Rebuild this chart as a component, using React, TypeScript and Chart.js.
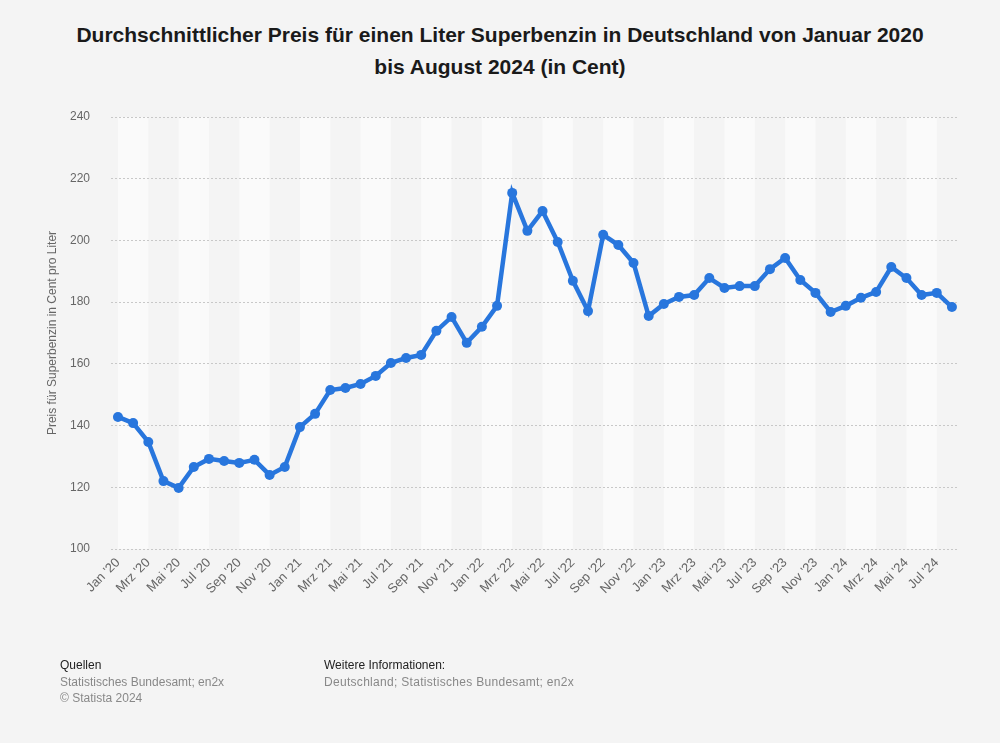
import React, { useEffect, useRef } from "react";
import { Chart, registerables } from "chart.js";

Chart.register(...registerables);

const monthNames = ["Jan", "Feb", "Mrz", "Apr", "Mai", "Jun", "Jul", "Aug", "Sep", "Okt", "Nov", "Dez"];
const years = ["20", "21", "22", "23", "24"];

const categories: string[] = [];
years.forEach((y, yi) => {
  const n = yi === 4 ? 8 : 12;
  for (let m = 0; m < n; m++) categories.push(`${monthNames[m]} '${y}`);
});

const prices2020 = [142.8, 140.8, 134.7, 122.0, 119.8, 126.6, 129.2, 128.5, 127.9, 128.9, 124.0, 126.6];
const prices2021 = [139.5, 143.8, 151.5, 152.2, 153.5, 156.1, 160.3, 161.9, 162.9, 170.7, 175.2, 166.8];
const prices2022 = [172.0, 178.8, 215.4, 203.1, 209.5, 199.5, 186.9, 177.1, 201.8, 198.5, 192.7, 175.5];
const prices2023 = [179.4, 181.7, 182.3, 187.8, 184.6, 185.2, 185.2, 190.7, 194.3, 187.2, 183.0, 176.8];
const prices2024 = [178.8, 181.4, 183.3, 191.4, 187.8, 182.3, 183.0, 178.4];

const prices = [...prices2020, ...prices2021, ...prices2022, ...prices2023, ...prices2024];

const yTicks = [100, 120, 140, 160, 180, 200, 220, 240];

const FONT = "'Liberation Sans', Arial, Helvetica, sans-serif";

const bandsPlugin = {
  id: "bands",
  beforeDraw(chart: any) {
    const { ctx, chartArea, scales } = chart;
    const x = scales.x;
    ctx.save();
    ctx.fillStyle = "#fafafa";
    for (let i = 0; i < categories.length; i += 4) {
      const x0 = x.getPixelForValue(i);
      const x1 = x.getPixelForValue(Math.min(i + 2, categories.length - 1));
      ctx.fillRect(x0, chartArea.top, x1 - x0, chartArea.bottom - chartArea.top);
    }
    ctx.restore();
  },
};

export default function App() {
  const ref = useRef<HTMLCanvasElement | null>(null);

  useEffect(() => {
    document.body.style.margin = "0";
    if (!ref.current) return;
    const chart = new Chart(ref.current, {
      type: "line",
      data: {
        datasets: [
          {
            data: prices.map((v, i) => ({ x: i, y: v })),
            borderColor: "#2876dd",
            backgroundColor: "#2876dd",
            borderWidth: 4.5,
            pointRadius: 5,
            pointBorderWidth: 0,
            pointBackgroundColor: "#2876dd",
            tension: 0,
          },
        ],
      },
      options: {
        animation: false,
        responsive: false,
        devicePixelRatio: 1,
        layout: { padding: { left: 0, right: 42, top: 117, bottom: 114 } },
        plugins: {
          legend: { display: false },
          tooltip: { enabled: false },
        },
        scales: {
          x: {
            type: "linear",
            min: -0.46,
            max: 55.4,
            grid: { display: false, drawTicks: false },
            border: { display: false },
            afterBuildTicks(scale: any) {
              const t: any[] = [];
              for (let i = 0; i < categories.length; i += 2) t.push({ value: i });
              scale.ticks = t;
            },
            afterFit(scale: any) {
              scale.height = 80;
            },
            ticks: {
              autoSkip: false,
              maxRotation: 45,
              minRotation: 45,
              padding: 6,
              color: "#666",
              font: { family: FONT, size: 13 },
              callback: (v: any) => categories[v as number] ?? "",
            },
          },
          y: {
            min: 100,
            max: 240,
            afterBuildTicks(scale: any) {
              scale.ticks = yTicks.map((v) => ({ value: v }));
            },
            afterFit(scale: any) {
              scale.width = 111;
            },
            grid: { color: "#c8c8c8", lineWidth: 1, drawTicks: false },
            border: { display: false, dash: [2, 2] },
            ticks: {
              padding: 21,
              color: "#666",
              font: { family: FONT, size: 12 },
            },
            title: {
              display: true,
              text: "Preis für Superbenzin in Cent pro Liter",
              color: "#666",
              font: { family: FONT, size: 12 },
              padding: { top: 45, bottom: 0 },
            },
          },
        },
      },
      plugins: [bandsPlugin],
    });
    return () => chart.destroy();
  }, []);

  return (
    <div
      style={{
        position: "relative",
        width: 1000,
        height: 743,
        background: "#f4f4f4",
        fontFamily: FONT,
        overflow: "hidden",
      }}
    >
      <div
        style={{
          position: "absolute",
          top: 19,
          left: 0,
          width: 1000,
          textAlign: "center",
          fontWeight: "bold",
          fontSize: 21,
          lineHeight: "32px",
          color: "#1a1a1a",
        }}
      >
        Durchschnittlicher Preis für einen Liter Superbenzin in Deutschland von Januar 2020
        <br />
        bis August 2024 (in Cent)
      </div>
      <canvas ref={ref} width={1000} height={743} style={{ position: "absolute", top: 0, left: 0 }} />
      <div style={{ position: "absolute", top: 657, left: 60, fontSize: 12, lineHeight: "16.5px" }}>
        <div style={{ color: "#222" }}>Quellen</div>
        <div style={{ color: "#888" }}>Statistisches Bundesamt; en2x</div>
        <div style={{ color: "#888" }}>© Statista 2024</div>
      </div>
      <div style={{ position: "absolute", top: 657, left: 324, fontSize: 12, lineHeight: "16.5px" }}>
        <div style={{ color: "#222" }}>Weitere Informationen:</div>
        <div style={{ color: "#888", letterSpacing: 0.3 }}>Deutschland; Statistisches Bundesamt; en2x</div>
      </div>
    </div>
  );
}
